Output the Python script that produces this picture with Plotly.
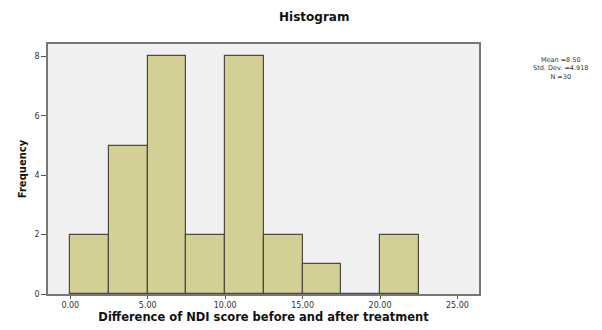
import plotly.graph_objects as go

bin_left = [0, 2.5, 5, 7.5, 10, 12.5, 15, 17.5, 20]
counts = [2, 5, 8, 2, 8, 2, 1, 0, 2]
bin_width = 2.5
x_ticks = [0, 5, 10, 15, 20, 25]
x_tick_labels = ["0.00", "5.00", "10.00", "15.00", "20.00", "25.00"]
y_ticks = [0, 2, 4, 6, 8]
stats_lines = ["Mean =8.50", "Std. Dev. =4.918", "N =30"]

centers = [b + bin_width / 2 for b in bin_left]
FONT = "DejaVu Sans, Arial"

fig = go.Figure()
fig.add_trace(go.Bar(
    x=centers, y=counts, width=bin_width,
    marker=dict(color="#d3cf95", line=dict(color="#4a4a40", width=1.2)),
))

fig.update_layout(
    width=602, height=330,
    margin=dict(l=48, r=123, t=44, b=36),
    paper_bgcolor="white", plot_bgcolor="#f0f0f0",
    font=dict(family=FONT, size=8, color="#222"),
    showlegend=False, bargap=0,
    title=dict(text="<b>Histogram</b>", x=0.522, xanchor="center", y=0.949, yanchor="middle",
               font=dict(size=12, color="#111", family=FONT)),
)
fig.update_xaxes(range=[-1.44, 26.39], tickvals=x_ticks, ticktext=x_tick_labels,
                 showgrid=False, zeroline=False, showline=True, linecolor="#777", linewidth=1.5,
                 mirror=True, ticks="outside", ticklen=3, tickcolor="#555",
                 tickfont=dict(size=8, color="#333"), automargin=False,
                 title=dict(text="<b>Difference of NDI score before and after treatment</b>",
                            font=dict(size=11.5, color="#111"), standoff=1))
fig.update_yaxes(range=[0, 8.42], tickvals=y_ticks, showgrid=False, zeroline=False,
                 showline=True, linecolor="#777", linewidth=1.5, mirror=True,
                 ticks="outside", ticklen=5, tickcolor="#555", tickfont=dict(size=8, color="#333"),
                 automargin=False,
                 title=dict(text="<b>Frequency</b>", font=dict(size=10, color="#111"), standoff=6))
fig.add_annotation(xref="paper", yref="paper", x=1.19, y=0.904,
                   xanchor="center", yanchor="middle",
                   text="<br>".join(stats_lines), showarrow=False, align="center",
                   font=dict(size=6.5, color="#333"))
fig.write_html("out.html", config={"displayModeBar": False},
               post_script="document.body.style.margin='0';document.body.style.overflow='hidden';")
